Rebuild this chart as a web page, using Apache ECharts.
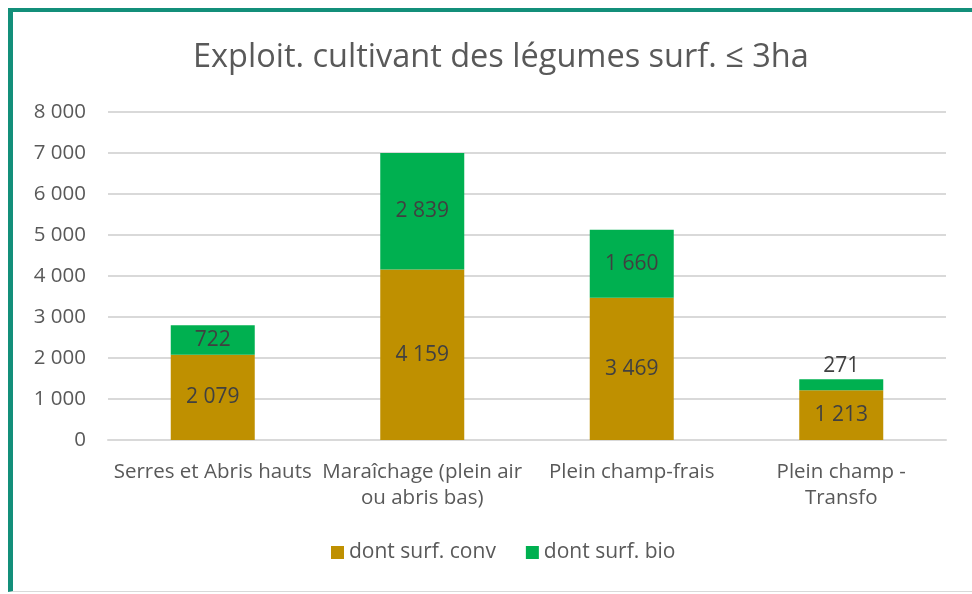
<!DOCTYPE html>
<html>
<head>
<meta charset="utf-8">
<script src="https://cdn.jsdelivr.net/npm/echarts@6/dist/echarts.min.js"></script>
<style>
  html, body { margin: 0; padding: 0; background: #fff; }
  .frame {
    position: absolute;
    left: 8px; top: 8px; right: -10px; bottom: 2px;
    border-left: 5px solid #138f7a;
    border-top: 4px solid #138f7a;
    border-bottom: 1px solid #d9d9d9;
  }
  #chart { position: absolute; left: 0; top: 0; width: 972px; height: 594px; }
</style>
</head>
<body>
<div class="frame"></div>
<div id="chart"></div>
<script>
// données
const categories = ['Serres et Abris hauts', 'Maraîchage (plein air\nou abris bas)', 'Plein champ-frais', 'Plein champ -\nTransfo']
const convValues = [2079, 4159, 3469, 1213]
const bioValues = [722, 2839, 1660, 271]
const seriesNames = ['dont surf. conv', 'dont surf. bio']

const colors = ['#bf9000', '#00b050']
const font = 'Open Sans'

// format "8 000"
const fmt = v => String(v).replace(/\B(?=(\d{3})+(?!\d))/g, ' ')

const chart = echarts.init(document.getElementById('chart'))

const option = {
  animation: false,
  title: {
    text: 'Exploit. cultivant des légumes surf. ≤ 3ha',
    left: 188,
    top: 36,
    textStyle: { fontFamily: font, fontSize: 32.5, fontWeight: 'normal', color: '#595959' }
  },
  legend: {
    bottom: 26,
    left: 326,
    itemWidth: 13,
    itemHeight: 13,
    itemGap: 30,
    icon: 'rect',
    textStyle: { fontFamily: font, fontSize: 21, color: '#595959' },
    data: seriesNames
  },
  grid: { left: 108, right: 26, top: 112, bottom: 154 },
  xAxis: {
    type: 'category',
    data: categories,
    axisLine: { lineStyle: { color: '#d9d9d9', width: 2 } },
    axisTick: { show: false },
    axisLabel: { fontFamily: font, fontSize: 20.5, color: '#595959', margin: 19, lineHeight: 26, interval: 0 }
  },
  yAxis: {
    type: 'value',
    min: 0,
    max: 8000,
    interval: 1000,
    axisLine: { show: false },
    axisTick: { show: false },
    splitLine: { lineStyle: { color: '#d9d9d9', width: 2 } },
    axisLabel: { fontFamily: font, fontSize: 20.5, color: '#595959', margin: 22, formatter: fmt }
  },
  series: [
    {
      name: seriesNames[0],
      type: 'bar',
      stack: 'total',
      barWidth: 84,
      itemStyle: { color: colors[0] },
      label: {
        show: true, position: 'inside',
        fontFamily: font, fontSize: 21, color: '#404040',
        formatter: p => fmt(p.value)
      },
      data: convValues
    },
    {
      name: seriesNames[1],
      type: 'bar',
      stack: 'total',
      barWidth: 84,
      itemStyle: { color: colors[1] },
      label: {
        show: true, position: 'inside',
        fontFamily: font, fontSize: 21, color: '#404040',
        formatter: p => fmt(p.value)
      },
      // petite valeur : étiquette au-dessus de la barre
      data: bioValues.map(v => v < 500 ? { value: v, label: { position: 'top', distance: 3 } } : v)
    }
  ]
}

chart.setOption(option)
</script>
</body>
</html>
